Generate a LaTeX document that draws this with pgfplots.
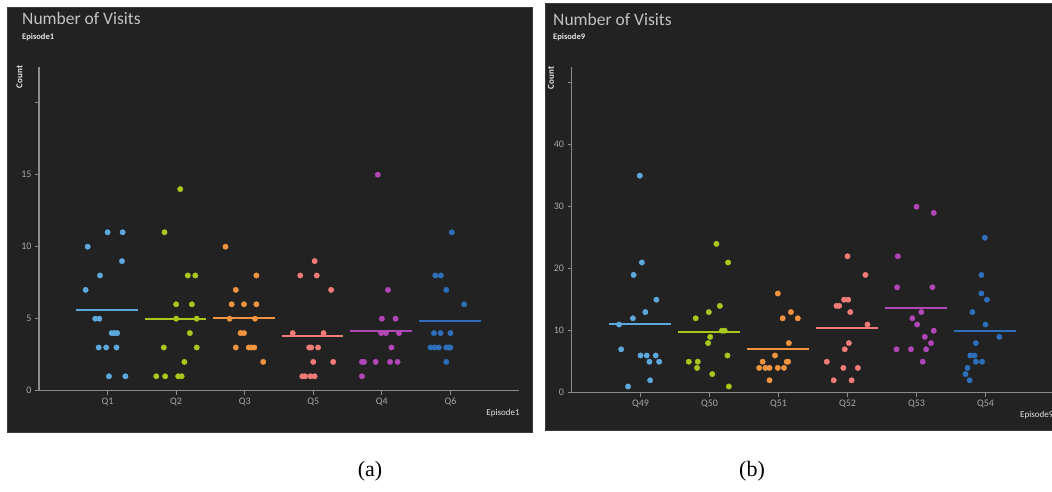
\documentclass[border=0pt]{standalone}
\usepackage{pgfplots}
\pgfplotsset{compat=1.18}
\usepackage{fontspec}
\setmainfont{Carlito}
\newfontfamily\capfont{Liberation Serif}
\definecolor{panelbg}{HTML}{222222}
\definecolor{panelbd}{HTML}{3A3A3A}
\definecolor{axgray}{HTML}{8C8C8C}
\definecolor{ticktext}{HTML}{A8A8A8}
\definecolor{titlec}{HTML}{C3C3C3}
\definecolor{subc}{HTML}{E6E6E6}
\definecolor{cA}{HTML}{5DA9DD}
\definecolor{cB}{HTML}{A8C81B}
\definecolor{cC}{HTML}{F0943F}
\definecolor{cD}{HTML}{F07B77}
\definecolor{cE}{HTML}{B146B7}
\definecolor{cF}{HTML}{2D6FBA}
\pgfplotsset{
  dotstyle/.style={only marks, mark=*, mark size=2.7pt, mark options={draw=#1, fill=#1}},
  meanstyle/.style={color=#1, line width=2pt, no marks},
  panelaxis/.style={
    scale only axis, anchor=south west,
    xmin=0, xmax=7, ymin=0,
    axis x line*=bottom, axis y line*=left,
    axis line style={-, draw=axgray, line width=1.2pt},
    xtick={1,2,3,4,5,6},
    tick align=outside, major tick length=4pt,
    tick style={draw=axgray, line width=0.8pt},
    tick label style={font=\fontsize{10}{12}\selectfont, text=ticktext},
    /pgf/number format/assume math mode=true,
    clip=false,
  },
}
\begin{document}
\begin{tikzpicture}[x=1pt,y=1pt]
\useasboundingbox (0,0) rectangle (1052,492);
\fill[white] (0,0) rectangle (1052,492);
\fill[panelbg, draw=panelbd, line width=0.8pt] (7,60) rectangle (532,485);
\fill[panelbg, draw=panelbd, line width=0.8pt] (545,62) rectangle (1053,489);
% ---------- panel (a)
\node[anchor=base west, text=titlec, font=\fontsize{17.5}{20}\selectfont, inner sep=0] at (22,467) {Number of Visits};
\node[anchor=base west, text=subc, font=\bfseries\fontsize{8.5}{10}\selectfont, inner sep=0] at (22,452) {Episode1};
\node[rotate=90, text=subc, font=\bfseries\fontsize{9}{10}\selectfont, inner sep=0] at (19.5,415) {Count};
\node[text=subc, font=\fontsize{9}{10}\selectfont, inner sep=0] at (503,79) {Episode1};
\begin{axis}[panelaxis, at={(39pt,101.3pt)}, width=480pt, height=324pt, ymax=22.5,
  xticklabels={Q1,Q2,Q3,Q5,Q4,Q6},
  ytick={0,5,10,15,20}, yticklabels={0,5,10,15,{}}]
\addplot[dotstyle=cA] coordinates {(1.00,11) (1.22,11) (0.71,10) (1.21,9) (0.89,8) (0.68,7) (0.82,5) (0.88,5) (1.06,4) (1.10,4) (1.14,4) (0.87,3) (0.98,3) (1.13,3) (1.02,1) (1.26,1)};
\addplot[dotstyle=cB] coordinates {(2.06,14) (1.83,11) (2.17,8) (2.28,8) (2.00,6) (2.23,6) (2.00,5) (2.30,5) (2.20,4) (1.82,3) (2.30,3) (2.12,2) (1.71,1) (1.84,1) (2.03,1) (2.08,1)};
\addplot[dotstyle=cC] coordinates {(2.72,10) (3.17,8) (2.87,7) (2.81,6) (2.99,6) (3.17,6) (2.78,5) (3.15,5) (2.94,4) (2.99,4) (2.87,3) (3.06,3) (3.10,3) (3.14,3) (3.27,2)};
\addplot[dotstyle=cD] coordinates {(4.02,9) (3.81,8) (4.05,8) (4.26,7) (3.70,4) (4.15,4) (3.94,3) (3.97,3) (4.07,3) (4.00,2) (4.29,2) (3.84,1) (3.88,1) (3.96,1) (4.02,1)};
\addplot[dotstyle=cE] coordinates {(4.94,15) (5.09,7) (5.00,5) (5.20,5) (4.99,4) (5.06,4) (5.25,4) (5.14,3) (4.71,2) (4.74,2) (4.91,2) (5.12,2) (5.23,2) (4.71,1)};
\addplot[dotstyle=cF] coordinates {(6.02,11) (5.78,8) (5.86,8) (5.94,7) (6.20,6) (5.76,4) (5.855,4) (6.00,4) (5.71,3) (5.77,3) (5.83,3) (5.94,3) (6.00,3) (5.97,3) (5.94,2)};
\addplot[meanstyle=cA] coordinates {(0.54,5.6) (1.44,5.6)};
\addplot[meanstyle=cB] coordinates {(1.54,5.0) (2.44,5.0)};
\addplot[meanstyle=cC] coordinates {(2.54,5.05) (3.44,5.05)};
\addplot[meanstyle=cD] coordinates {(3.54,3.82) (4.44,3.82)};
\addplot[meanstyle=cE] coordinates {(4.54,4.17) (5.44,4.17)};
\addplot[meanstyle=cF] coordinates {(5.54,4.84) (6.44,4.84)};
\end{axis}
% ---------- panel (b)
\node[anchor=base west, text=titlec, font=\fontsize{17.5}{20}\selectfont, inner sep=0] at (553,466) {Number of Visits};
\node[anchor=base west, text=subc, font=\bfseries\fontsize{8.5}{10}\selectfont, inner sep=0] at (553,452) {Episode9};
\node[rotate=90, text=subc, font=\bfseries\fontsize{9}{10}\selectfont, inner sep=0] at (551,414) {Count};
\node[anchor=west, text=subc, font=\fontsize{9}{10}\selectfont, inner sep=0] at (1020,77) {Episode9};
\begin{axis}[panelaxis, at={(571.5pt,99.3pt)}, width=483pt, height=325.5pt, ymax=52.5,
  xticklabels={Q49,Q50,Q51,Q52,Q53,Q54},
  ytick={0,10,20,30,40,50}, yticklabels={0,10,20,30,40,{}}]
\addplot[dotstyle=cA] coordinates {(0.99,35) (1.02,21) (0.90,19) (1.23,15) (1.07,13) (0.89,12) (0.69,11) (0.72,7) (1.00,6) (1.09,6) (1.22,6) (1.13,5) (1.27,5) (1.14,2) (0.82,1)};
\addplot[dotstyle=cB] coordinates {(2.10,24) (2.27,21) (2.15,14) (1.99,13) (1.80,12) (2.18,10) (2.22,10) (2.01,9) (1.98,8) (2.26,6) (1.70,5) (1.83,5) (1.82,4) (2.04,3) (2.28,1)};
\addplot[dotstyle=cC] coordinates {(2.99,16) (3.18,13) (3.06,12) (3.28,12) (3.15,8) (2.95,6) (2.77,5) (3.12,5) (3.14,5) (2.72,4) (2.81,4) (2.87,4) (2.99,4) (3.08,4) (2.87,2)};
\addplot[dotstyle=cD] coordinates {(4.00,22) (4.26,19) (3.95,15) (4.01,15) (3.84,14) (3.88,14) (4.04,13) (4.29,11) (4.02,8) (3.96,7) (3.70,5) (3.94,4) (4.15,4) (3.80,2) (4.06,2)};
\addplot[dotstyle=cE] coordinates {(5.00,30) (5.25,29) (4.73,22) (4.72,17) (5.23,17) (5.07,13) (4.94,12) (5.01,11) (5.25,10) (5.12,9) (5.21,8) (4.71,7) (4.92,7) (5.14,7) (5.09,5)};
\addplot[dotstyle=cF] coordinates {(5.99,25) (5.94,19) (5.94,16) (6.02,15) (5.81,13) (6.00,11) (6.20,9) (5.86,8) (5.78,6) (5.84,6) (5.86,5) (5.95,5) (5.74,4) (5.71,3) (5.77,2)};
\addplot[meanstyle=cA] coordinates {(0.54,11.0) (1.44,11.0)};
\addplot[meanstyle=cB] coordinates {(1.54,9.8) (2.44,9.8)};
\addplot[meanstyle=cC] coordinates {(2.54,7.05) (3.44,7.05)};
\addplot[meanstyle=cD] coordinates {(3.54,10.43) (4.44,10.43)};
\addplot[meanstyle=cE] coordinates {(4.54,13.7) (5.44,13.7)};
\addplot[meanstyle=cF] coordinates {(5.54,9.9) (6.44,9.9)};
\end{axis}
% ---------- captions
\node[font=\capfont\fontsize{22}{26}\selectfont, inner sep=0] at (370,21) {(a)};
\node[font=\capfont\fontsize{22}{26}\selectfont, inner sep=0] at (752,21) {(b)};
\end{tikzpicture}
\end{document}
